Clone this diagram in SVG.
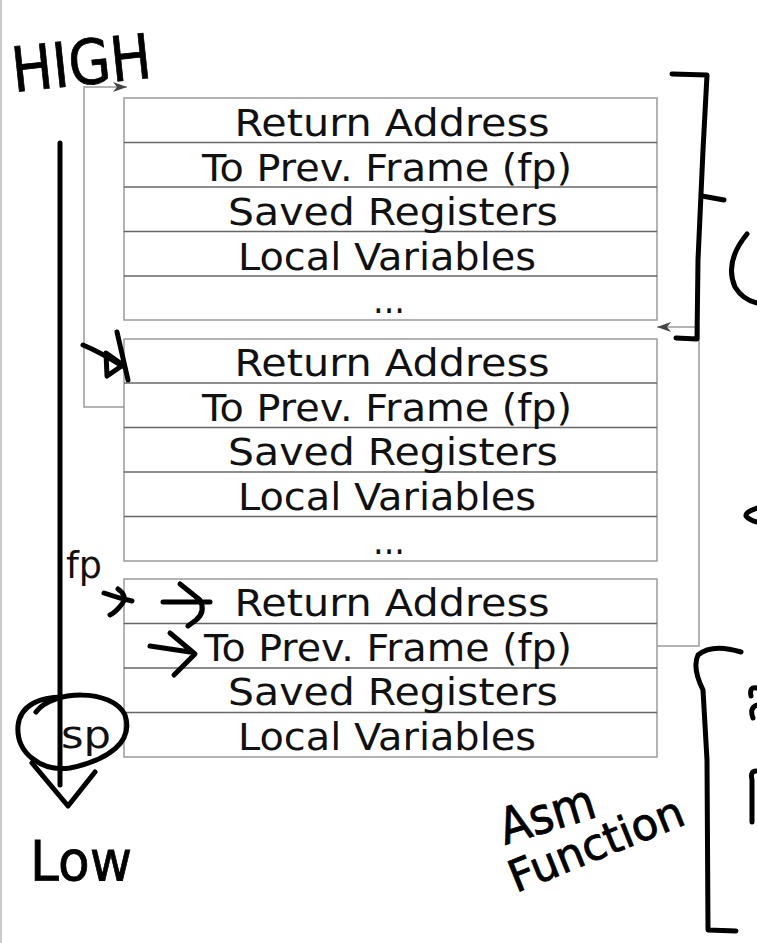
<svg xmlns="http://www.w3.org/2000/svg" width="757" height="943" viewBox="0 0 757 943">
<style>
.box{fill:#ffffff;stroke:#9a9a9a;stroke-width:1.5}
.div{stroke:#666666;stroke-width:1.5}
.lbl{font-family:"DejaVu Sans",sans-serif;font-size:37px;fill:#111111;text-anchor:middle}
.ptr{font-family:"DejaVu Sans",sans-serif;font-size:38px;fill:#111111;text-anchor:middle}
.conn{fill:none;stroke:#9a9a9a;stroke-width:1.5}
.ink{fill:none;stroke:#000000;stroke-width:5;stroke-linecap:round;stroke-linejoin:round}
.hand{font-family:"DejaVu Sans",sans-serif;fill:#000000;stroke:#000000;stroke-width:0.8}
</style>
<defs>
<marker id="arr" viewBox="0 0 14 10" refX="14" refY="5" markerWidth="14" markerHeight="10" markerUnits="userSpaceOnUse" orient="auto">
<path d="M0,0 L14,5 L0,10 L4,5 Z" fill="#444444"/>
</marker>
</defs>
<rect width="757" height="943" fill="#ffffff"/>
<line x1="1" y1="0" x2="1" y2="943" stroke="#cccccc" stroke-width="2"/>

<g id="frame1">
<rect class="box" x="124" y="98" width="533" height="222"/>
<line class="div" x1="124" y1="142.5" x2="657" y2="142.5"/>
<line class="div" x1="124" y1="187" x2="657" y2="187"/>
<line class="div" x1="124" y1="231.5" x2="657" y2="231.5"/>
<line class="div" x1="124" y1="276" x2="657" y2="276"/>
<text class="lbl" x="392" y="136" textLength="315" lengthAdjust="spacingAndGlyphs">Return Address</text>
<text class="lbl" x="387" y="181" textLength="370" lengthAdjust="spacingAndGlyphs">To Prev. Frame (fp)</text>
<text class="lbl" x="393" y="225" textLength="330" lengthAdjust="spacingAndGlyphs">Saved Registers</text>
<text class="lbl" x="387" y="270" textLength="298" lengthAdjust="spacingAndGlyphs">Local Variables</text>
<text class="lbl" x="389" y="313" textLength="32" lengthAdjust="spacingAndGlyphs">...</text>
</g>

<g id="frame2">
<rect class="box" x="124" y="339" width="533" height="222"/>
<line class="div" x1="124" y1="383" x2="657" y2="383"/>
<line class="div" x1="124" y1="427.5" x2="657" y2="427.5"/>
<line class="div" x1="124" y1="472" x2="657" y2="472"/>
<line class="div" x1="124" y1="516.5" x2="657" y2="516.5"/>
<text class="lbl" x="392" y="376" textLength="315" lengthAdjust="spacingAndGlyphs">Return Address</text>
<text class="lbl" x="387" y="421" textLength="370" lengthAdjust="spacingAndGlyphs">To Prev. Frame (fp)</text>
<text class="lbl" x="393" y="465" textLength="330" lengthAdjust="spacingAndGlyphs">Saved Registers</text>
<text class="lbl" x="387" y="510" textLength="298" lengthAdjust="spacingAndGlyphs">Local Variables</text>
<text class="lbl" x="389" y="554" textLength="32" lengthAdjust="spacingAndGlyphs">...</text>
</g>

<g id="frame3">
<rect class="box" x="124" y="579" width="533" height="178"/>
<line class="div" x1="124" y1="623.5" x2="657" y2="623.5"/>
<line class="div" x1="124" y1="668" x2="657" y2="668"/>
<line class="div" x1="124" y1="712.5" x2="657" y2="712.5"/>
<text class="lbl" x="392" y="616" textLength="315" lengthAdjust="spacingAndGlyphs">Return Address</text>
<text class="lbl" x="388" y="661" textLength="368" lengthAdjust="spacingAndGlyphs">To Prev. Frame (fp)</text>
<text class="lbl" x="393" y="705" textLength="330" lengthAdjust="spacingAndGlyphs">Saved Registers</text>
<text class="lbl" x="387" y="750" textLength="298" lengthAdjust="spacingAndGlyphs">Local Variables</text>
</g>

<g id="connectors">
<path class="conn" d="M124,407 L84,407 L84,87 L127,87" marker-end="url(#arr)"/>
<path class="conn" d="M657,646 L699,646 L699,327 L657,327" marker-end="url(#arr)"/>
</g>

<g id="pointers">
<text class="ptr" x="84" y="578" textLength="36" lengthAdjust="spacingAndGlyphs">fp</text>
<text class="ptr" x="86" y="748" textLength="50" lengthAdjust="spacingAndGlyphs">sp</text>
</g>

<g id="annotations">
<text class="hand" x="14" y="92" font-size="62" textLength="140" lengthAdjust="spacingAndGlyphs" transform="rotate(-6 14 92)">HIGH</text>
<path class="ink" d="M60,143 L60,785"/>
<path class="ink" d="M36,712 C52,690 112,688 125,715 C134,742 108,760 70,768 C40,772 16,752 18,726 C20,704 42,697 62,697"/>
<path class="ink" d="M32,763 L68,806 L95,772"/>
<text class="hand" x="30" y="880" font-size="56" textLength="102" lengthAdjust="spacingAndGlyphs">Low</text>
<path class="ink" d="M83,345 Q100,352 122,366"/>
<path class="ink" d="M106,353 L123,365 L107,376 Z" fill="#000"/>
<path class="ink" stroke-width="3" d="M117,332 L128,380"/>
<path class="ink" d="M104,593 Q118,598 132,601 M118,589 Q128,596 122,604 Q116,612 110,615"/>
<path class="ink" d="M163,602 L210,602 M180,584 L200,600 Q206,612 196,620 L188,626"/>
<path class="ink" d="M150,646 L190,652 M170,633 L195,654 L174,675"/>
<path class="ink" d="M672,74 L707,75 L703,150 L698,260 L697,339 L676,338"/>
<path class="ink" stroke-width="3" d="M702,196 L724,200"/>
<path class="ink" stroke-width="3.5" d="M747,234 Q724,262 735,287 Q743,300 757,303"/>
<path class="ink" d="M757,508 Q745,512 746,516 Q749,520 757,522"/>
<path class="ink" d="M741,652 Q712,643 698,655 Q692,668 703,690 L707,760 L708,930 L736,931"/>
<path class="ink" stroke-width="3.5" d="M757,688 Q749,686 751,696 M757,705 Q749,708 753,718 M756,771 Q750,771 752,780 L752,822"/>
<text class="hand" x="505" y="845" font-size="50" textLength="98" lengthAdjust="spacingAndGlyphs" transform="rotate(-17 505 845)">Asm</text>
<text class="hand" x="516" y="893" font-size="44" textLength="185" lengthAdjust="spacingAndGlyphs" transform="rotate(-22 516 893)">Function</text>
</g>
</svg>
